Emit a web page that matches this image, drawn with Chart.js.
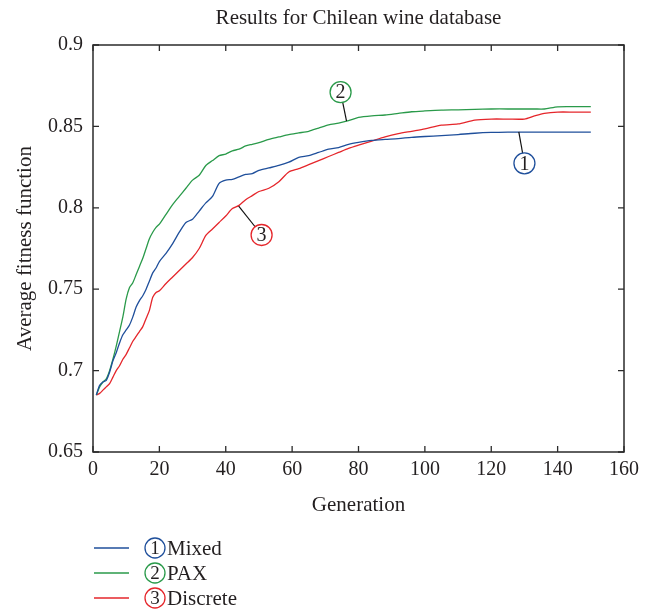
<!DOCTYPE html>
<html><head><meta charset="utf-8">
<script src="https://cdn.jsdelivr.net/npm/chart.js@4/dist/chart.umd.min.js"></script>
<style>html,body{margin:0;padding:0;background:#fff}</style>
</head><body>
<canvas id="c" width="652" height="611"></canvas>
<script>
// ---- data ----
const generations = [1,2,3,4,5,6,7,8,9,10,11,12,13,14,15,16,17,18,19,20,22,24,26,28,30,32,34,36,38,40,42,44,46,48,50,53,56,59,62,65,68,71,74,77,80,84,88,92,96,100,105,110,115,120,125,130,133,136,140,145,150];
const mixed = [0.685,0.691,0.693,0.694,0.699,0.706,0.711,0.717,0.722,0.725,0.728,0.733,0.739,0.743,0.746,0.750,0.755,0.760,0.763,0.767,0.772,0.778,0.785,0.791,0.793,0.798,0.803,0.807,0.815,0.817,0.8175,0.819,0.8205,0.821,0.823,0.8245,0.826,0.828,0.831,0.832,0.834,0.836,0.837,0.839,0.8402,0.8414,0.842,0.8425,0.8433,0.8438,0.8443,0.845,0.8458,0.8463,0.8465,0.8465,0.8465,0.8465,0.8465,0.8465,0.8465];
const pax = [0.685,0.690,0.693,0.695,0.700,0.707,0.715,0.724,0.733,0.744,0.751,0.754,0.759,0.764,0.769,0.775,0.781,0.785,0.788,0.790,0.796,0.802,0.807,0.812,0.817,0.820,0.826,0.829,0.832,0.833,0.835,0.836,0.838,0.839,0.840,0.842,0.8435,0.845,0.846,0.847,0.849,0.851,0.852,0.8535,0.8555,0.8565,0.857,0.858,0.859,0.8595,0.860,0.8602,0.8605,0.8607,0.8607,0.8607,0.8607,0.8607,0.862,0.8621,0.8621];
const discrete = [0.685,0.686,0.688,0.690,0.692,0.696,0.700,0.703,0.707,0.710,0.714,0.718,0.721,0.724,0.727,0.732,0.737,0.745,0.748,0.749,0.7535,0.7575,0.7615,0.7655,0.7695,0.775,0.783,0.787,0.791,0.795,0.7995,0.8015,0.805,0.8075,0.810,0.812,0.816,0.822,0.824,0.8265,0.829,0.8315,0.834,0.8365,0.8385,0.841,0.8435,0.8455,0.847,0.8485,0.8508,0.8515,0.8539,0.8545,0.8545,0.8545,0.8564,0.858,0.8588,0.8588,0.8588];
const seriesNames = ['Mixed','PAX','Discrete'];
const seriesNumbers = ['1','2','3'];
const xTickValues = [0,20,40,60,80,100,120,140,160];
const yTickValues = [0.65,0.7,0.75,0.8,0.85,0.9];

// ---- styles / annotation placement ----
const colors = ['#1f4f9b','#2a9a4a','#e5262b'];
const SERIF = '"Liberation Serif","DejaVu Serif",serif';
const INK = '#231f20';
// callouts: anchor on the curve and circle centre, in data units
const callouts = [
  {series:0, ax:128.3, ay:0.8467, cx:130, cy:0.8273},
  {series:1, ax:76.4, ay:0.8533, cx:74.6, cy:0.8710},
  {series:2, ax:43.9, ay:0.8011, cx:50.8, cy:0.7833}
];

function circledNumber(ctx, x, y, r, num, color, size){
  ctx.save();
  ctx.beginPath();
  ctx.arc(x, y, r, 0, Math.PI*2);
  ctx.strokeStyle = color; ctx.lineWidth = 1.3; ctx.stroke();
  ctx.fillStyle = INK;
  ctx.font = size + 'px ' + SERIF;
  ctx.textAlign = 'center'; ctx.textBaseline = 'middle';
  ctx.fillText(num, x, y + 1);
  ctx.restore();
}

const decor = {
  id: 'decor',
  afterDatasetsDraw(chart){
    const ctx = chart.ctx, a = chart.chartArea;
    const xs = chart.scales.x, ys = chart.scales.y;
    ctx.save();
    ctx.strokeStyle = '#2b2b2b'; ctx.lineWidth = 1.5;
    ctx.strokeRect(a.left, a.top, a.right - a.left, a.bottom - a.top);
    ctx.lineWidth = 1.3;
    const tl = 6;
    xTickValues.forEach(v => {
      const px = xs.getPixelForValue(v);
      ctx.beginPath();
      ctx.moveTo(px, a.bottom); ctx.lineTo(px, a.bottom - tl);
      ctx.moveTo(px, a.top); ctx.lineTo(px, a.top + tl);
      ctx.stroke();
    });
    yTickValues.forEach(v => {
      const py = ys.getPixelForValue(v);
      ctx.beginPath();
      ctx.moveTo(a.left, py); ctx.lineTo(a.left + tl, py);
      ctx.moveTo(a.right, py); ctx.lineTo(a.right - tl, py);
      ctx.stroke();
    });
    const r = 10.5;
    callouts.forEach(c => {
      const ax = xs.getPixelForValue(c.ax), ay = ys.getPixelForValue(c.ay);
      const cx = xs.getPixelForValue(c.cx), cy = ys.getPixelForValue(c.cy);
      const dx = ax - cx, dy = ay - cy, d = Math.hypot(dx, dy);
      ctx.beginPath();
      ctx.strokeStyle = '#111'; ctx.lineWidth = 1.2;
      ctx.moveTo(ax, ay); ctx.lineTo(cx + dx / d * r, cy + dy / d * r);
      ctx.stroke();
      circledNumber(ctx, cx, cy, r, seriesNumbers[c.series], colors[c.series], 20);
    });
    ctx.restore();
  },
  afterDraw(chart){
    const ctx = chart.ctx;
    ctx.save();
    const rows = [548, 573, 598];
    seriesNames.forEach((name, i) => {
      const y = rows[i];
      ctx.beginPath();
      ctx.strokeStyle = colors[i]; ctx.lineWidth = 1.3;
      ctx.moveTo(94, y); ctx.lineTo(129, y); ctx.stroke();
      circledNumber(ctx, 155, y, 10, seriesNumbers[i], colors[i], 19);
      ctx.fillStyle = INK;
      ctx.font = '21px ' + SERIF;
      ctx.textAlign = 'left'; ctx.textBaseline = 'middle';
      ctx.fillText(name, 167, y + 1);
    });
    ctx.restore();
  }
};

const datasets = [mixed, pax, discrete].map((vals, i) => ({
  label: seriesNames[i],
  data: vals,
  borderColor: colors[i],
  backgroundColor: colors[i],
  borderWidth: 1.3,
  pointRadius: 0,
  tension: 0.25,
  fill: false
}));

new Chart(document.getElementById('c'), {
  type: 'line',
  data: { labels: generations, datasets },
  options: {
    responsive: false,
    animation: false,
    devicePixelRatio: 1,
    layout: { padding: { left: 0, right: 28, top: 0, bottom: 89 } },
    plugins: {
      legend: { display: false },
      tooltip: { enabled: false },
      title: {
        display: true,
        fullSize: false,
        text: 'Results for Chilean wine database',
        color: INK,
        font: { family: SERIF, size: 21, weight: 'normal' },
        padding: { top: 5.4, bottom: 14.4 }
      }
    },
    scales: {
      x: {
        type: 'linear',
        min: 0, max: 160,
        afterFit(s){ s.height = 70; },
        afterBuildTicks(s){ s.ticks = xTickValues.map(v => ({ value: v })); },
        grid: { display: false, drawTicks: false },
        border: { display: false },
        ticks: {
          padding: 6, color: INK, maxRotation: 0, autoSkip: false,
          font: { family: SERIF, size: 20 }
        },
        title: {
          display: true, text: 'Generation', color: INK,
          font: { family: SERIF, size: 21 },
          padding: { top: 0, bottom: 4.4 }
        }
      },
      y: {
        type: 'linear',
        min: 0.65, max: 0.9,
        afterFit(s){ s.width = 93; },
        afterBuildTicks(s){ s.ticks = yTickValues.map(v => ({ value: v })); },
        grid: { display: false, drawTicks: false },
        border: { display: false },
        ticks: {
          padding: 10, color: INK,
          font: { family: SERIF, size: 20 },
          callback: v => String(Number(v.toFixed(2)))
        },
        title: {
          display: true, text: 'Average fitness function', color: INK,
          font: { family: SERIF, size: 21 },
          padding: { top: 12.4, bottom: 0 }
        }
      }
    }
  },
  plugins: [decor]
});
</script>
</body></html>
